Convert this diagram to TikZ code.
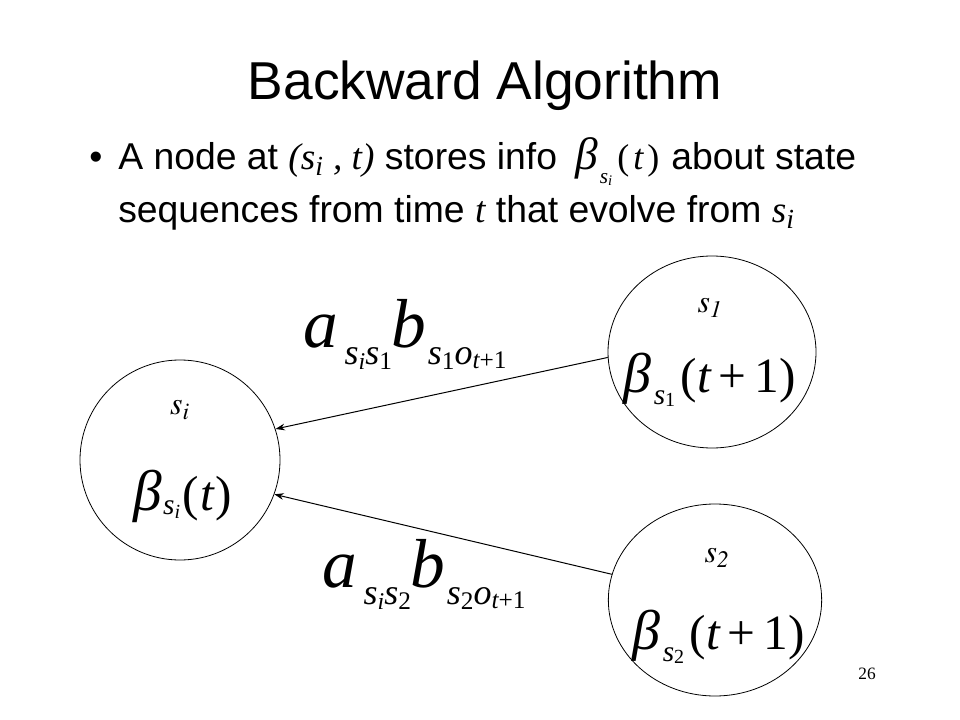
\documentclass[tikz,border=0pt]{standalone}
\usepackage{mathptmx}
\usepackage[no-math]{fontspec}
\setmainfont{Liberation Sans}
\newfontfamily\tnr{Liberation Serif}
\usetikzlibrary{shapes.geometric,arrows.meta}
% lowered box: #1 drop, #2 size, #3 content
\newcommand\sbx[3]{\raisebox{-#1}{\fontsize{#2}{#2}\selectfont #3}}
\newcommand\vi[1]{{\tnr\itshape #1}}
\newcommand\vr[1]{{\tnr #1}}
\newcommand\fs[2]{{\fontsize{#1}{#1}\selectfont #2}}
\begin{document}
\begin{tikzpicture}[x=0.75pt,y=-0.75pt,
  txt/.style={inner sep=0pt,font=\fontsize{28}{34}\selectfont},
  state/.style={draw,ellipse,line width=0.6pt,inner sep=0pt},
  lbl/.style={inner sep=0pt,font=\fontsize{24}{28}\selectfont},
  bigmath/.style={inner sep=0pt},
  trans/.style={inner sep=0pt},
  arr/.style={line width=0.75pt,-{Stealth[length=7pt,width=5pt]}}]
\useasboundingbox (0,0) rectangle (960,720);
\node[inner sep=0pt,font=\fontsize{40}{46}\selectfont,anchor=base] (title) at (485,100) {Backward Algorithm};
\node[txt,anchor=base] (bul) at (96,170) {\textbullet};
\node[txt,anchor=base west] (l1) at (118,170) {A node at {\tnr\itshape (s\textsubscript{i} , t)} stores info\hspace{14pt}\fs{34}{\vi{β}}\hspace{1pt}\sbx{10pt}{16}{\vi{s}\sbx{2pt}{11}{\vi{i}}}\hspace{4pt}\fs{27}{\vr{(}\hspace{3pt}\vi{t}\hspace{3pt}\vr{)}}\hspace{9pt}about state};
\node[txt,anchor=base west] (l2) at (118,223) {sequences from time {\tnr\itshape t} that evolve from {\tnr\itshape s\textsubscript{i}}};
% states
\node[state,minimum width=150pt,minimum height=150pt] (si) at (180,460) {};
\node[state,minimum width=156pt,minimum height=144pt] (s1) at (712,352) {};
\node[state,minimum width=160pt,minimum height=144pt] (s2) at (715,600) {};
\node[lbl] (lsi) at (180,410) {$s_i$};
\node[bigmath,anchor=base west] (bsi) at (133,510) {\fs{43}{\vi{β}}\hspace{1pt}\sbx{3pt}{22}{\vi{s}\sbx{3pt}{15}{\vi{i}}}\hspace{2pt}\fs{37}{\vr{(}\hspace{1pt}\vi{t}\hspace{1pt}\vr{)}}};
\node[lbl] (ls1) at (710,308) {$s_{\mathit{1}}$};
\node[bigmath,anchor=base west] (bs1) at (623,392) {\fs{42}{\vi{β}}\hspace{2pt}\sbx{9pt}{22}{\vi{s}\sbx{2pt}{15}{\vr{1}}}\hspace{4pt}\fs{37}{\vr{(}\vi{t}\hspace{6pt}\vr{+}\hspace{6pt}\vr{1)}}};
\node[lbl] (ls2) at (717,558) {$s_{\mathit{2}}$};
\node[bigmath,anchor=base west] (bs2) at (632,649) {\fs{42}{\vi{β}}\hspace{2pt}\sbx{9pt}{22}{\vi{s}\sbx{2pt}{15}{\vr{2}}}\hspace{4pt}\fs{37}{\vr{(}\vi{t}\hspace{6pt}\vr{+}\hspace{6pt}\vr{1)}}};
% transitions
\node[trans,anchor=base west] (a1) at (303,347) {\fs{52}{\vi{a}}\hspace{5pt}\sbx{13pt}{27}{\vi{s}\sbx{4pt}{18}{\vi{i}}\vi{s}\sbx{4pt}{19}{\vr{1}}}\fs{52}{\vi{b}}\hspace{1pt}\sbx{13pt}{27}{\vi{s}\sbx{4pt}{19}{\vr{1}}\vi{o}\sbx{3pt}{19}{\vi{t}\vr{+1}}}};
\node[trans,anchor=base west] (a2) at (322,587) {\fs{52}{\vi{a}}\hspace{5pt}\sbx{13pt}{27}{\vi{s}\sbx{4pt}{18}{\vi{i}}\vi{s}\sbx{4pt}{19}{\vr{2}}}\fs{52}{\vi{b}}\hspace{1pt}\sbx{13pt}{27}{\vi{s}\sbx{4pt}{19}{\vr{2}}\vi{o}\sbx{3pt}{19}{\vi{t}\vr{+1}}}};
\draw[arr] (s1.183) -- (si.18);
\draw[arr] (s2.166) -- (si.-20);
\node[inner sep=0pt,font=\tnr\fontsize{13}{15}\selectfont] (pg) at (867,674) {26};
\end{tikzpicture}
\end{document}
